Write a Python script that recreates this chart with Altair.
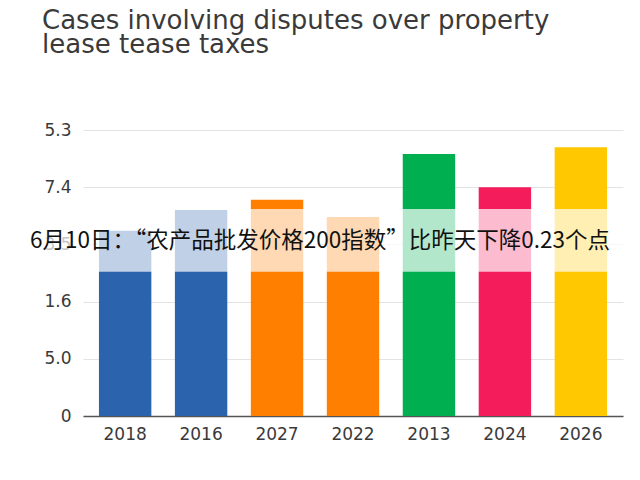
import altair as alt
import pandas as pd

years = ["2018", "2016", "2027", "2022", "2013", "2024", "2026"]
values = [16.2, 18.0, 18.9, 17.4, 22.9, 20.0, 23.5]
colors = ["#2b63ad", "#2b63ad", "#ff7f00", "#ff7f00", "#00b050", "#f51c5c", "#ffc800"]

tick_values = [0, 5, 10, 15, 20, 25]
tick_labels = ["0", "5.0", "1.6", "3.5", "7.4", "5.3"]

overlay_text = "6月10日：“农产品批发价格200指数”比昨天下降0.23个点"
band_lo, band_hi, text_at = [12.6], [18.1], [15.3]

title_lines = ["Cases involving disputes over property", "lease tease taxes"]

df = pd.DataFrame({"year": years, "value": values})
band_df = pd.DataFrame({"lo": band_lo, "hi": band_hi, "t": text_at, "label": [overlay_text]})

label_map = "{" + ",".join(f"'{v}':'{l}'" for v, l in zip(tick_values, tick_labels)) + "}"

W, H = 540, 286

bars = alt.Chart(df).mark_bar().encode(
    x=alt.X("year:N", sort=None, title=None,
            scale=alt.Scale(paddingInner=0.31, paddingOuter=0.21),
            axis=alt.Axis(labelAngle=0, labelFont="DejaVu Sans", labelFontSize=17,
                          labelColor="#3a3a3a", labelPadding=10, ticks=False,
                          domainColor="#555555", domainWidth=1.5, grid=False, zindex=0)),
    y=alt.Y("value:Q", title=None,
            scale=alt.Scale(domain=[0, 25], nice=False),
            axis=alt.Axis(values=tick_values, labelExpr=f"{label_map}[datum.value]",
                          labelFont="DejaVu Sans", labelFontSize=17, labelColor="#3a3a3a",
                          labelPadding=12, ticks=False, domain=False,
                          gridColor="#e3e3e3", gridWidth=1, zindex=0)),
    color=alt.Color("year:N", scale=alt.Scale(domain=years, range=colors), legend=None),
)

band = alt.Chart(band_df).mark_rect(color="white", opacity=0.7).encode(
    x=alt.value(-83), x2=alt.value(W + 17),
    y=alt.Y("hi:Q"), y2=alt.Y2("lo:Q"),
)

text = alt.Chart(band_df).mark_text(
    font="Noto Sans CJK SC", fontSize=22.5, color="#111111", align="center", baseline="middle"
).encode(
    x=alt.value(237),
    y=alt.Y("t:Q"),
    text="label:N",
)

chart = alt.layer(bars, band, text).properties(
    width=W, height=H,
    title=alt.TitleParams(title_lines, anchor="start", frame="group", dx=-41, dy=-3,
                          font="DejaVu Sans", fontSize=26, fontWeight="normal",
                          color="#3a3a3a", lineHeight=24, offset=60),
    autosize=alt.AutoSizeParams(type="none"),
    padding={"left": 75, "top": 122, "right": 9, "bottom": 56},
).configure_view(stroke=None)

chart.save("out.html", embed_options={"renderer": "svg", "actions": False})
